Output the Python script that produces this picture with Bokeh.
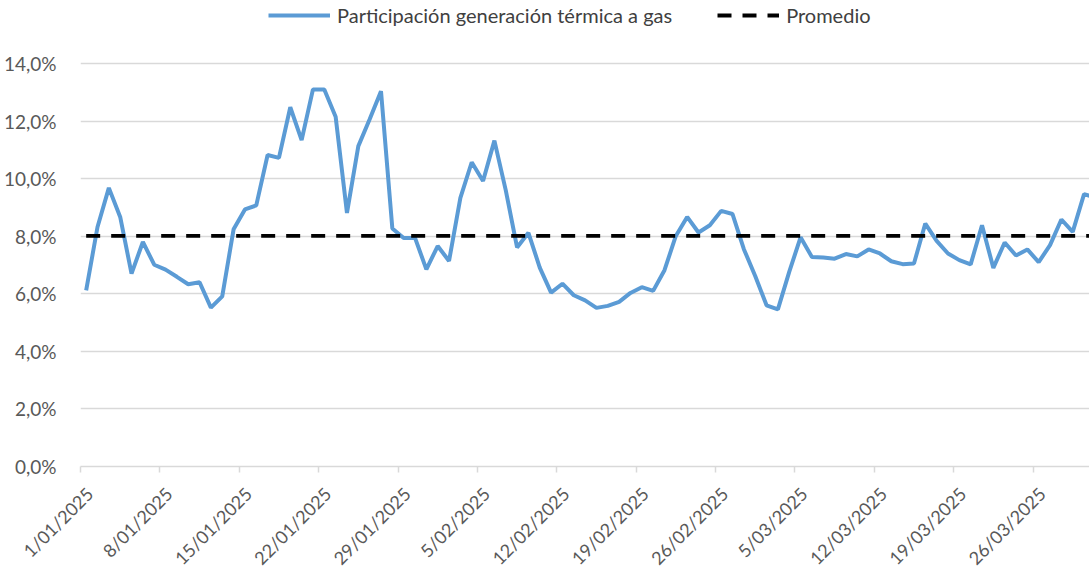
import math
from bokeh.plotting import figure
from bokeh.models import FixedTicker, Legend, LegendItem, ColumnDataSource, Range1d
from bokeh.embed import file_html
from bokeh.resources import INLINE

# Daily share (%) of gas-fired thermal generation, 1 Jan 2025 .. 31 Mar 2025
participacion = [
    6.12, 8.32, 9.68, 8.67, 6.70, 7.80, 7.01, 6.84, 6.59, 6.33,
    6.40, 5.52, 5.91, 8.24, 8.93, 9.07, 10.82, 10.72, 12.48, 11.34,
    13.10, 13.10, 12.15, 8.81, 11.13, 12.06, 13.04, 8.27, 7.94, 7.94,
    6.85, 7.66, 7.14, 9.33, 10.57, 9.92, 11.32, 9.60, 7.61, 8.12,
    6.91, 6.04, 6.35, 5.95, 5.77, 5.51, 5.58, 5.72, 6.03, 6.23,
    6.10, 6.82, 8.01, 8.67, 8.13, 8.38, 8.88, 8.77, 7.55, 6.62,
    5.60, 5.46, 6.76, 7.96, 7.28, 7.26, 7.22, 7.38, 7.30, 7.54,
    7.40, 7.13, 7.03, 7.05, 8.44, 7.84, 7.40, 7.17, 7.02, 8.38,
    6.90, 7.78, 7.33, 7.54, 7.10, 7.69, 8.58, 8.15, 9.46, 9.35,
]
promedio_valor = 8.01

tick_dates = ["1/01/2025", "8/01/2025", "15/01/2025", "22/01/2025", "29/01/2025",
              "5/02/2025", "12/02/2025", "19/02/2025", "26/02/2025", "5/03/2025",
              "12/03/2025", "19/03/2025", "26/03/2025"]
y_ticks = [0, 2, 4, 6, 8, 10, 12, 14]
y_labels = ["0,0%", "2,0%", "4,0%", "6,0%", "8,0%", "10,0%", "12,0%", "14,0%"]

n = len(participacion)
days = list(range(n))
src = ColumnDataSource(dict(x=days, y=participacion, avg=[promedio_valor] * n))

FONT = "Lato"
GREY = "#595959"

# frame extends to the top of the picture so that the legend can sit inside it
FRAME_H = 466
y_top = 14 * FRAME_H / 403.0

p = figure(frame_width=1009, frame_height=FRAME_H, output_backend="svg", toolbar_location=None,
           x_range=Range1d(-0.5, 88.48), y_range=Range1d(0, y_top),
           min_border_left=80, min_border_right=0, min_border_top=0, min_border_bottom=0)
p.outline_line_color = None
p.background_fill_color = "white"
p.border_fill_color = "white"

r1 = p.line("x", "y", source=src, line_color="#5B9BD5", line_width=4)
r2 = p.line("x", "avg", source=src, line_color="black", line_width=3.8, line_dash="14 11")

# X axis: tick marks at the week boundaries (minor ticks), labels slightly offset like Excel
tick_pos = [i * 7 - 0.5 for i in range(len(tick_dates))]
label_pos = [t + 0.8 for t in tick_pos]
p.xaxis.ticker = FixedTicker(ticks=label_pos, minor_ticks=tick_pos)
p.xaxis.major_label_overrides = {t: lab for t, lab in zip(label_pos, tick_dates)}
p.xaxis.major_label_orientation = math.pi / 4
p.xaxis.major_label_text_font = FONT
p.xaxis.major_label_text_font_size = "18px"
p.xaxis.major_label_text_color = GREY
p.xaxis.major_label_standoff = 18
p.xaxis.axis_line_color = "#d9d9d9"
p.xaxis.axis_line_width = 1.5
p.xaxis.major_tick_line_color = None
p.xaxis.major_tick_out = 0
p.xaxis.major_tick_in = 0
p.xaxis.minor_tick_line_color = "#d9d9d9"
p.xaxis.minor_tick_line_width = 1.5
p.xaxis.minor_tick_out = 6
p.xaxis.minor_tick_in = 0
p.xgrid.grid_line_color = None

# Y axis
p.yaxis.ticker = FixedTicker(ticks=y_ticks)
p.yaxis.major_label_overrides = {t: lab for t, lab in zip(y_ticks, y_labels)}
p.yaxis.major_label_text_font = FONT
p.yaxis.major_label_text_font_size = "19px"
p.yaxis.major_label_text_color = GREY
p.yaxis.axis_line_color = None
p.yaxis.major_tick_line_color = None
p.yaxis.minor_tick_line_color = None
p.yaxis.major_label_standoff = 18
p.ygrid.grid_line_color = "#d9d9d9"
p.ygrid.grid_line_width = 1.5

legend = Legend(items=[LegendItem(label="Participación generación térmica a gas", renderers=[r1]),
                       LegendItem(label="Promedio", renderers=[r2])],
                orientation="horizontal", location=(188, FRAME_H - 5 - 22),
                label_text_font=FONT, label_text_font_size="20px", label_text_color="#404040",
                glyph_width=62, glyph_height=22, label_standoff=7, spacing=45,
                border_line_color=None, background_fill_alpha=0,
                padding=0, margin=0)
p.add_layout(legend, "center")

open("out.html", "w").write(file_html(p, INLINE))
